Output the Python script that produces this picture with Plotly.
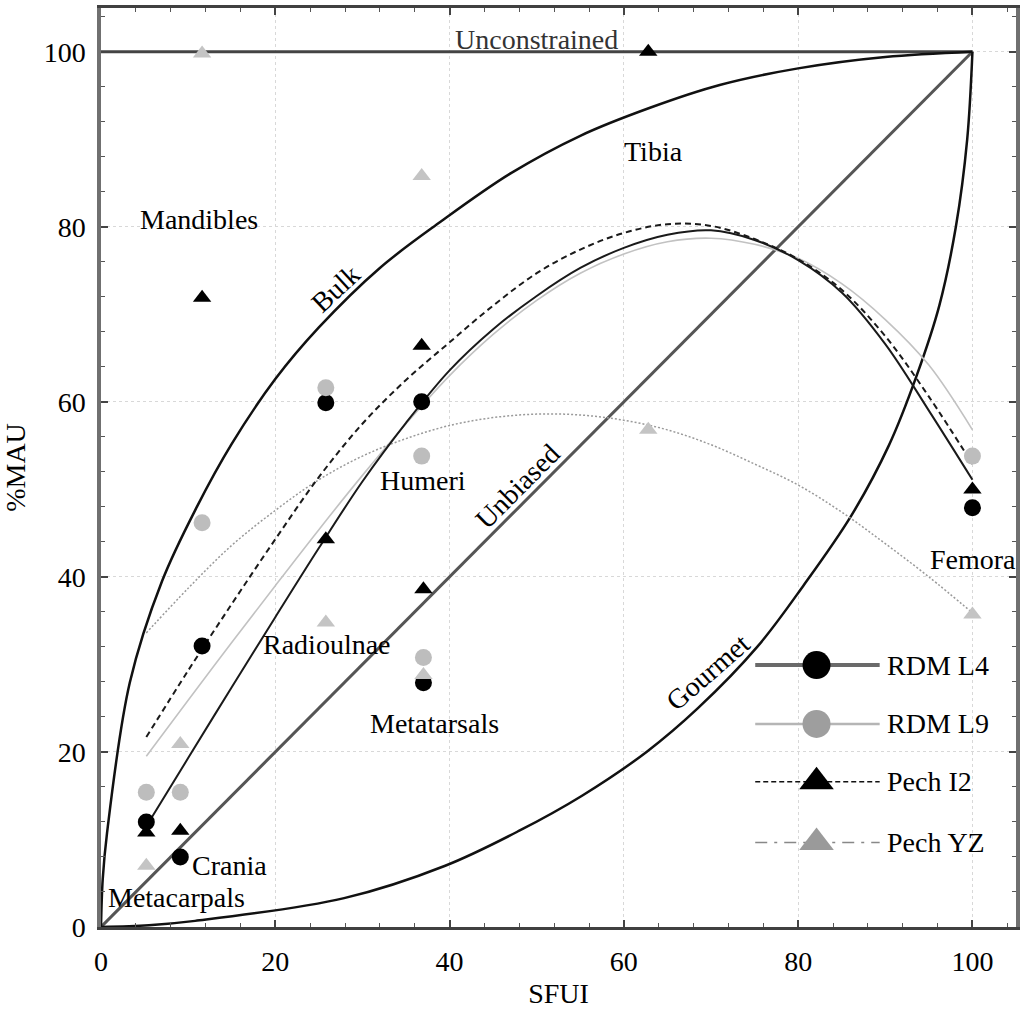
import plotly.graph_objects as go

# ---- skeletal elements: SFUI and %MAU per assemblage ----
elements = ["Metacarpals", "Crania", "Mandibles", "Radioulnae",
            "Humeri", "Metatarsals", "Tibia", "Femora"]
sfui = [5.2, 9.1, 11.6, 25.8, 36.8, 37.0, 62.8, 100.0]
rdm_l4 = [12.0, 8.0, 32.1, 59.9, 60.0, 27.9, None, 47.9]
rdm_l9 = [15.4, 15.4, 46.2, 61.6, 53.8, 30.8, None, 53.8]
pech_i2 = [10.8, 11.0, 71.9, 44.3, 66.4, 38.6, 100.0, 50.0]
pech_yz = [7.0, 20.9, 99.8, 34.8, 85.8, 28.8, 56.8, 35.7]

# ---- fitted trend curves ----
fit_x = [5.2, 10, 15, 20, 25, 30, 35, 40, 45, 50, 55, 60, 65, 70, 75, 80, 85, 90, 95, 100]
rdm_l4_fit = [11.5, 19.3, 27.4, 35.4, 43.3, 50.9, 57.6, 63.6, 68.3, 72.1, 75.3, 77.6, 79.1,
              79.6, 78.5, 76.2, 72.5, 66.6, 59.0, 51.1]
rdm_l9_fit = [19.5, 25.9, 32.5, 39.0, 45.4, 51.6, 57.5, 63.0, 67.7, 71.6, 74.7, 76.9, 78.3,
              78.7, 78.0, 76.4, 73.5, 69.4, 64.2, 56.8]
pech_i2_fit = [21.7, 29.3, 36.9, 44.3, 51.4, 57.5, 62.5, 66.8, 71.0, 74.7, 77.4, 79.3, 80.3,
               80.1, 78.6, 76.3, 72.8, 67.5, 60.6, 52.9]
pech_yz_fit = [33.6, 38.7, 43.6, 47.6, 51.1, 53.8, 55.8, 57.3, 58.2, 58.6, 58.5, 57.9, 56.8,
               55.1, 52.9, 50.5, 47.4, 43.8, 40.0, 35.9]

# ---- transport strategy reference curves ----
bulk_x = [0, 0.2, 0.7, 3.3, 7, 11, 15, 20, 25, 32, 39, 47, 55, 63, 71, 80, 90, 100]
bulk_y = [0, 5.5, 10.8, 27.9, 39.5, 48.0, 55.2, 62.6, 68.5, 75.3, 80.6, 86.1, 90.4, 93.6,
          96.2, 98.1, 99.4, 100]
unbiased_x = [0, 100]
unbiased_y = [0, 100]
unconstrained_x = [0, 100]
unconstrained_y = [100, 100]

ticks = [0, 20, 40, 60, 80, 100]
series_names = ["RDM L4", "RDM L9", "Pech I2", "Pech YZ"]

FONT = "Liberation Serif"

fig = go.Figure()

# strategy curves
fig.add_trace(go.Scatter(x=unconstrained_x, y=unconstrained_y, mode="lines",
                         line=dict(color="#444444", width=3)))
fig.add_trace(go.Scatter(x=unbiased_x, y=unbiased_y, mode="lines",
                         line=dict(color="#555555", width=3)))
fig.add_trace(go.Scatter(x=bulk_x, y=bulk_y, mode="lines",
                         line=dict(color="#111111", width=2.5, shape="spline", smoothing=1.0)))
# gourmet is the mirror image of bulk about the unbiased line
fig.add_trace(go.Scatter(x=bulk_y, y=bulk_x, mode="lines",
                         line=dict(color="#111111", width=2.5, shape="spline", smoothing=1.0)))

# trend curves
fig.add_trace(go.Scatter(x=fit_x, y=rdm_l9_fit, mode="lines",
                         line=dict(color="#c2c2c2", width=1.6, shape="spline")))
fig.add_trace(go.Scatter(x=fit_x, y=pech_yz_fit, mode="lines",
                         line=dict(color="#9a9a9a", width=1.5, dash="2px,2px", shape="spline")))
fig.add_trace(go.Scatter(x=fit_x, y=rdm_l4_fit, mode="lines",
                         line=dict(color="#1a1a1a", width=2, shape="spline")))
fig.add_trace(go.Scatter(x=fit_x, y=pech_i2_fit, mode="lines",
                         line=dict(color="#1a1a1a", width=2, dash="6px,4px", shape="spline")))

# observed points
fig.add_trace(go.Scatter(x=sfui, y=rdm_l4, mode="markers", name="RDM L4",
                         marker=dict(symbol="circle", size=17, color="#000000")))
fig.add_trace(go.Scatter(x=sfui, y=rdm_l9, mode="markers", name="RDM L9",
                         marker=dict(symbol="circle", size=17, color="#bdbdbd")))
fig.add_trace(go.Scatter(x=sfui, y=pech_i2, mode="markers", name="Pech I2",
                         marker=dict(symbol="triangle-up", size=16, color="#000000")))
fig.add_trace(go.Scatter(x=sfui, y=pech_yz, mode="markers", name="Pech YZ",
                         marker=dict(symbol="triangle-up", size=16, color="#c4c4c4")))

# hand-drawn key on an overlay axis spanning the plot area
key_rows = [0.285, 0.221, 0.158, 0.092]
key_lines = [dict(color="#6a6a6a", width=4),
             dict(color="#b5b5b5", width=2.5),
             dict(color="#111111", width=1.6, dash="5px,3px"),
             dict(color="#888888", width=1.5, dash="12px,7px,3px,7px")]
key_markers = [dict(symbol="circle", size=28, color="#000000"),
               dict(symbol="circle", size=28, color="#9e9e9e"),
               dict(symbol="triangle-up", size=30, color="#000000"),
               dict(symbol="triangle-up", size=30, color="#9a9a9a")]
for name, yk, ln, mk in zip(series_names, key_rows, key_lines, key_markers):
    fig.add_trace(go.Scatter(x=[0.715, 0.851], y=[yk, yk], mode="lines", line=ln,
                             xaxis="x2", yaxis="y2"))
    fig.add_trace(go.Scatter(x=[0.782], y=[yk], mode="markers", marker=mk,
                             xaxis="x2", yaxis="y2"))
    fig.add_annotation(x=0.857, y=yk, xref="x2", yref="y2", text=name,
                       showarrow=False, xanchor="left", yanchor="middle",
                       font=dict(family=FONT, size=28, color="black"))

# element and strategy labels
labels = [
    ("Unconstrained", 50.0, 101.4, 0, "#333333"),
    ("Tibia", 63.4, 88.6, 0, "black"),
    ("Mandibles", 11.25, 80.8, 0, "black"),
    ("Humeri", 36.9, 51.0, 0, "black"),
    ("Radioulnae", 25.9, 32.3, 0, "black"),
    ("Metatarsals", 38.3, 23.3, 0, "black"),
    ("Crania", 14.8, 7.0, 0, "black"),
    ("Metacarpals", 8.7, 3.4, 0, "black"),
    ("Femora", 100.05, 42.0, 0, "black"),
    ("Bulk", 26.9, 73.0, -43, "black"),
    ("Unbiased", 47.8, 50.3, -45, "black"),
    ("Gourmet", 69.6, 29.1, -41, "black"),
]
for txt, lx, ly, ang, col in labels:
    fig.add_annotation(x=lx, y=ly, text=txt, showarrow=False, textangle=ang,
                       xanchor="center", yanchor="middle",
                       font=dict(family=FONT, size=28, color=col))

axis_common = dict(
    range=[0, 105], tickvals=ticks, ticktext=[str(t) for t in ticks],
    ticks="inside", ticklen=7, tickwidth=1.5, tickcolor="#444444",
    mirror="ticks", showline=True, zeroline=False,
    showgrid=True, gridcolor="#d8d8d8", griddash="dot", gridwidth=1,
    minor=dict(dtick=4, ticks="inside", ticklen=4, tickwidth=1,
               tickcolor="#555555", showgrid=False),
    tickfont=dict(family=FONT, size=28, color="black"),
)

fig.update_layout(
    width=1025, height=1010,
    margin=dict(l=101, r=5, t=8, b=82),
    paper_bgcolor="white", plot_bgcolor="white",
    showlegend=False,
    font=dict(family=FONT, size=28, color="black"),
    xaxis=dict(**axis_common, linecolor="#404040", linewidth=2.5,
               ticklabelstandoff=8,
               title=dict(text="SFUI", standoff=8,
                          font=dict(family=FONT, size=28, color="black"))),
    yaxis=dict(**axis_common, linecolor="#707070", linewidth=3.5,
               ticklabelstandoff=6,
               title=dict(text="%MAU", standoff=16,
                          font=dict(family=FONT, size=28, color="black"))),
    xaxis2=dict(overlaying="x", range=[0, 1], visible=False, anchor="y2"),
    yaxis2=dict(overlaying="y", range=[0, 1], visible=False, anchor="x2"),
)

fig.write_html("out.html")
